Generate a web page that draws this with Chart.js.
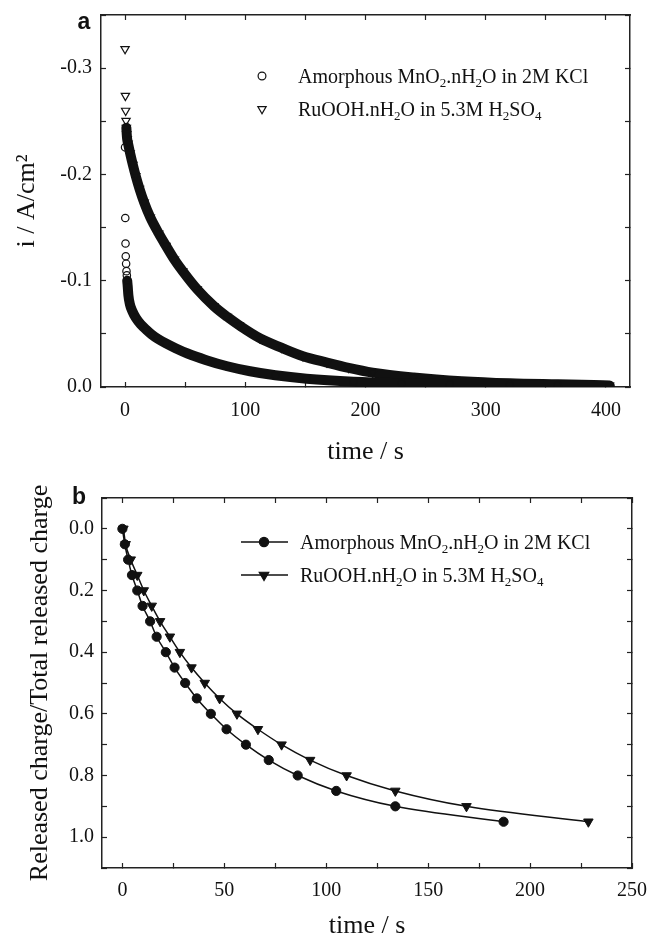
<!doctype html>
<html lang="en">
<head>
    <meta charset="utf-8">
    <title>Current decay and released charge</title>
    <script src="https://cdn.jsdelivr.net/npm/chart.js"></script>
    <style>
        body { margin: 0; background: #fff; }
        #panelA, #panelB { position: absolute; left: 0; }
        #panelA { top: 0; }
        #panelB { top: 470px; }
    </style>
</head>
<body>
<canvas id="panelA" width="649" height="470"></canvas>
<canvas id="panelB" width="649" height="472"></canvas>

<script>
    // panel a: current vs time
    const mnTime = [0, 0.2, 0.4, 0.6, 0.9, 1.2, 1.5, 1.8, 2.2, 2.8, 4, 6, 9, 13, 18, 22, 27, 34, 42, 52, 67, 85, 104, 125, 151, 190, 230, 270, 320, 360, 403];
    const mnCurrent = [-0.2255, -0.159, -0.135, -0.123, -0.116, -0.109, -0.105, -0.100, -0.095, -0.086, -0.078, -0.0715, -0.065, -0.059, -0.0535, -0.0495, -0.0455, -0.041, -0.0365, -0.0315, -0.0255, -0.0195, -0.0148, -0.011, -0.0078, -0.005, -0.0035, -0.0026, -0.0019, -0.0014, -0.001];
    const ruTime = [0, 0.3, 0.5, 0.8, 1.1, 1.4, 1.8, 2.5, 4.2, 6.5, 8.9, 12, 15.9, 21, 28, 34, 41, 48, 60, 74, 85, 95, 112, 130, 148, 168, 186, 206, 240, 280, 320, 360, 403];
    const ruCurrent = [-0.318, -0.274, -0.26, -0.2505, -0.244, -0.238, -0.233, -0.229, -0.220, -0.209, -0.1985, -0.1865, -0.1735, -0.1595, -0.1445, -0.133, -0.120, -0.109, -0.092, -0.076, -0.066, -0.058, -0.046, -0.037, -0.029, -0.023, -0.018, -0.0135, -0.009, -0.0055, -0.0035, -0.0025, -0.0015];
    // first index where the sampled points merge into a continuous band
    const mnBandStart = 7;
    const ruBandStart = 4;

    // panel b: released charge fraction vs time
    const releasedFraction = [0, 0.05, 0.10, 0.15, 0.20, 0.25, 0.30, 0.35, 0.40, 0.45, 0.50, 0.55, 0.60, 0.65, 0.70, 0.75, 0.80, 0.85, 0.90, 0.95];
    const mnReleasedTime = [0, 1.2, 2.8, 4.7, 7.3, 9.9, 13.6, 16.8, 21.3, 25.6, 30.8, 36.5, 43.4, 51.1, 60.6, 71.8, 86.0, 104.9, 133.9, 187];
    const ruReleasedTime = [0.5, 1.6, 4.1, 7.3, 10.5, 14.4, 18.5, 23.3, 28.2, 33.9, 40.4, 47.7, 56.2, 66.5, 78.1, 92.1, 110, 133.9, 168.8, 228.6];

    // legend labels, subscripts flagged
    const mnLabel = [{t: 'Amorphous MnO'}, {t: '2', sub: true}, {t: '.nH'}, {t: '2', sub: true}, {t: 'O in 2M KCl'}];
    const ruLabel = [{t: 'RuOOH.nH'}, {t: '2', sub: true}, {t: 'O in 5.3M H'}, {t: '2', sub: true}, {t: 'SO'}, {t: '4', sub: true}];

    const serif = '"Liberation Serif", "Times New Roman", serif';
    const ink = '#111';

    function drawRich(ctx, parts, x, y, size) {
        ctx.textAlign = 'left';
        ctx.textBaseline = 'alphabetic';
        const base = y + size * 0.34;
        parts.forEach(p => {
            const s = p.sub ? Math.round(size * 0.65) : size;
            ctx.font = s + 'px ' + serif;
            ctx.fillText(p.t, x, p.sub ? base + size * 0.2 : base);
            x += ctx.measureText(p.t).width;
        });
    }

    function marker(ctx, style, radius, filled, x, y) {
        ctx.fillStyle = filled ? ink : 'rgba(0,0,0,0)';
        ctx.strokeStyle = ink;
        ctx.lineWidth = 1.2;
        Chart.helpers.drawPoint(ctx, {pointStyle: style, radius: radius, rotation: style === 'triangle' ? 180 : 0, borderWidth: 1.2}, x, y);
    }

    // panel letter, legend and (for b) the long y title
    function annotations(cfg) {
        return {
            id: 'annotations',
            afterDraw(chart) {
                const ctx = chart.ctx;
                ctx.save();
                ctx.fillStyle = ink;
                ctx.font = 'bold 23px "Liberation Sans", Arial, sans-serif';
                ctx.textAlign = 'center';
                ctx.textBaseline = 'alphabetic';
                ctx.fillText(cfg.letter, cfg.letterX, cfg.letterY);

                cfg.rows.forEach(r => {
                    if (r.line) {
                        ctx.strokeStyle = ink;
                        ctx.lineWidth = 1.5;
                        ctx.beginPath();
                        ctx.moveTo(r.lineFrom, r.y);
                        ctx.lineTo(r.lineTo, r.y);
                        ctx.stroke();
                    }
                    marker(ctx, r.style, r.radius, r.filled, r.mx, r.y);
                    ctx.fillStyle = ink;
                    drawRich(ctx, r.label, r.tx, r.y, 20);
                });

                if (cfg.yTitle) {
                    ctx.translate(cfg.yTitle.x, cfg.yTitle.y);
                    ctx.rotate(-Math.PI / 2);
                    ctx.fillStyle = ink;
                    ctx.font = '26px ' + serif;
                    ctx.textAlign = 'center';
                    ctx.textBaseline = 'middle';
                    ctx.fillText(cfg.yTitle.text, 0, 0);
                }
                ctx.restore();
            }
        };
    }

    function scaleOpts(o) {
        return {
            type: 'linear',
            position: o.position,
            min: o.min,
            max: o.max,
            reverse: !!o.reverse,
            border: {display: true, color: '#222', width: 1.5},
            grid: {drawOnChartArea: false, drawTicks: true, tickLength: -5, tickWidth: 1.2, tickColor: '#222'},
            ticks: {
                display: !!o.callback,
                stepSize: o.step,
                padding: o.padding || 0,
                callback: o.callback,
                font: {family: serif, size: 20},
                color: ink,
                autoSkip: false,
                maxRotation: 0,
                includeBounds: false,
                maxTicksLimit: 40
            },
            title: o.title ? {
                display: true,
                text: o.title,
                font: {family: serif, size: 26},
                color: ink,
                padding: o.titlePadding
            } : {display: false},
            afterFit: s => {
                if (s.isHorizontal()) s.height = o.size; else s.width = o.size;
                // edge labels must not push the plot area inwards
                s.paddingLeft = s.paddingRight = s.paddingTop = s.paddingBottom = 0;
            }
        };
    }

    const common = {
        responsive: false,
        animation: false,
        events: [],
        plugins: {legend: {display: false}, tooltip: {enabled: false}}
    };

    // ---- panel a
    const xA = {min: -20, max: 420, step: 50};
    const yA = {min: -0.35, max: 0, step: 0.05, reverse: true};
    new Chart(document.getElementById('panelA'), {
        type: 'scatter',
        data: {
            datasets: [{
                data: mnTime.map((t, i) => ({x: t, y: mnCurrent[i]})),
                showLine: true,
                borderColor: ink,
                borderWidth: 10,
                borderCapStyle: 'round',
                cubicInterpolationMode: 'monotone',
                segment: {borderColor: c => c.p0DataIndex < mnBandStart ? 'rgba(0,0,0,0)' : undefined},
                pointStyle: 'circle',
                pointRadius: 3.7,
                pointBorderWidth: 1.2,
                pointBorderColor: ink,
                pointBackgroundColor: 'rgba(0,0,0,0)'
            }, {
                data: ruTime.map((t, i) => ({x: t, y: ruCurrent[i]})),
                showLine: true,
                borderColor: ink,
                borderWidth: 10,
                borderCapStyle: 'round',
                cubicInterpolationMode: 'monotone',
                segment: {borderColor: c => c.p0DataIndex < ruBandStart ? 'rgba(0,0,0,0)' : undefined},
                pointStyle: 'triangle',
                rotation: 180,
                pointRadius: 4.8,
                pointBorderWidth: 1.2,
                pointBorderColor: ink,
                pointBackgroundColor: 'rgba(0,0,0,0)'
            }]
        },
        options: {
            ...common,
            layout: {padding: {top: 15, right: 19, left: 0, bottom: 0}},
            scales: {
                x: scaleOpts({...xA, position: 'bottom', size: 83, padding: 17,
                    callback: v => v % 100 === 0 ? String(v) : '',
                    title: 'time / s', titlePadding: {top: 0, bottom: 2}}),
                y: scaleOpts({...yA, position: 'left', size: 101, padding: 14,
                    callback: v => Math.abs(Math.round(v * 100)) % 10 === 0 ? v.toFixed(1) : '',
                    title: 'i / A/cm²', titlePadding: {top: 12, bottom: 0}}),
                x2: scaleOpts({...xA, position: 'top', size: 0}),
                y2: scaleOpts({...yA, position: 'right', size: 0})
            }
        },
        plugins: [annotations({
            letter: 'a', letterX: 84, letterY: 29,
            rows: [
                {style: 'circle', radius: 3.9, filled: false, mx: 262, tx: 298, y: 76, label: mnLabel},
                {style: 'triangle', radius: 4.8, filled: false, mx: 262, tx: 298, y: 109, label: ruLabel}
            ]
        })]
    });

    // ---- panel b
    const xB = {min: -10, max: 250, step: 25};
    const yB = {min: -0.1, max: 1.1, step: 0.1, reverse: true};
    new Chart(document.getElementById('panelB'), {
        type: 'scatter',
        data: {
            datasets: [{
                data: mnReleasedTime.map((t, i) => ({x: t, y: releasedFraction[i]})),
                showLine: true,
                borderColor: ink,
                borderWidth: 1.5,
                cubicInterpolationMode: 'monotone',
                pointStyle: 'circle',
                pointRadius: 4.6,
                pointBorderWidth: 1,
                pointBorderColor: ink,
                pointBackgroundColor: ink
            }, {
                data: ruReleasedTime.map((t, i) => ({x: t, y: releasedFraction[i]})),
                showLine: true,
                borderColor: ink,
                borderWidth: 1.5,
                cubicInterpolationMode: 'monotone',
                pointStyle: 'triangle',
                rotation: 180,
                pointRadius: 5.5,
                pointBorderWidth: 1,
                pointBorderColor: ink,
                pointBackgroundColor: ink
            }]
        },
        options: {
            ...common,
            layout: {padding: {top: 28, right: 17, left: 0, bottom: 0}},
            scales: {
                x: scaleOpts({...xB, position: 'bottom', size: 74, padding: 16,
                    callback: v => v % 50 === 0 ? String(v) : '',
                    title: 'time / s', titlePadding: {top: 0, bottom: 0}}),
                y: scaleOpts({...yB, position: 'left', size: 102, padding: 13,
                    callback: v => {
                        const r = Math.round(v * 10);
                        return r >= 0 && r <= 10 && r % 2 === 0 ? (r / 10).toFixed(1) : '';
                    }}),
                x2: scaleOpts({...xB, position: 'top', size: 0}),
                y2: scaleOpts({...yB, position: 'right', size: 0})
            }
        },
        plugins: [annotations({
            letter: 'b', letterX: 79, letterY: 34,
            rows: [
                {line: true, lineFrom: 241, lineTo: 288, style: 'circle', radius: 4.6, filled: true, mx: 264, tx: 300, y: 72, label: mnLabel},
                {line: true, lineFrom: 241, lineTo: 288, style: 'triangle', radius: 5.5, filled: true, mx: 264, tx: 300, y: 105, label: ruLabel}
            ],
            yTitle: {x: 40, y: 213, text: 'Released charge/Total released charge'}
        })]
    });
</script>
</body>
</html>
